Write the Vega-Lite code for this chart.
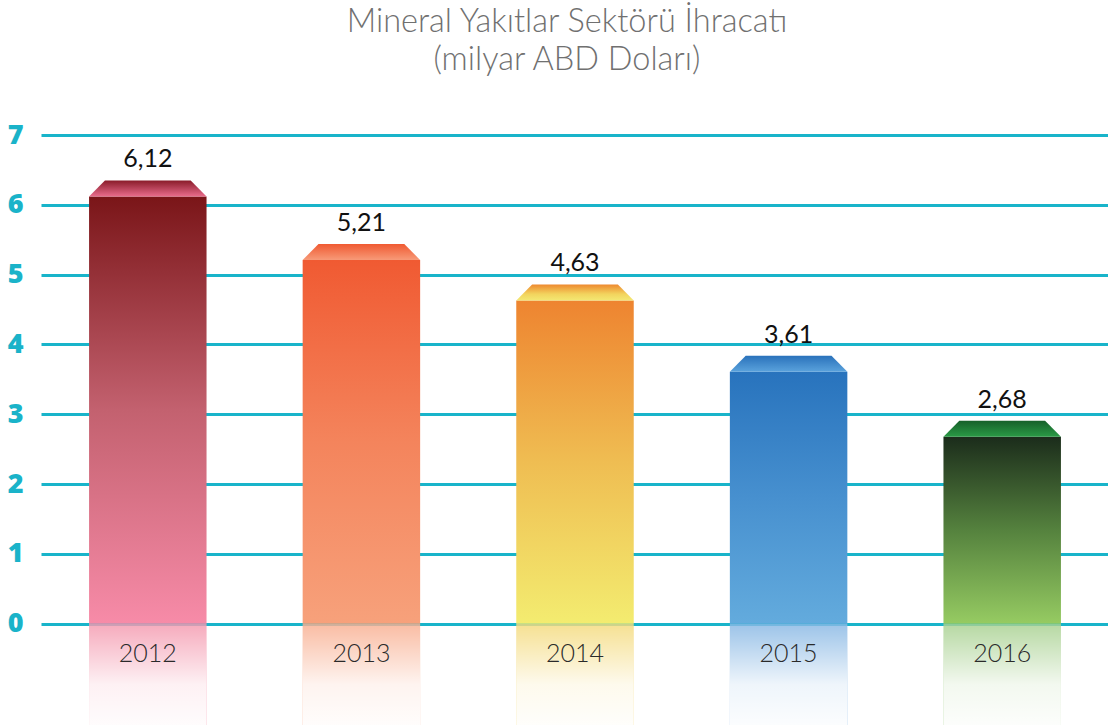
{
  "$schema": "https://vega.github.io/schema/vega-lite/v6.json",
  "width": 1068,
  "height": 590,
  "autosize": {"type": "none"},
  "padding": {"left": 41, "top": 135, "right": 0, "bottom": 0},
  "background": "white",
  "title": {
    "text": ["Mineral Yakıtlar Sektörü İhracatı", "(milyar ABD Doları)"],
    "fontSize": 32.5,
    "font": "Lato",
    "fontWeight": 300,
    "color": "#707070",
    "lineHeight": 38,
    "offset": 45,
    "anchor": "middle",
    "dx": -8
  },
  "config": {
    "view": {"stroke": null},
    "locale": {"number": {"decimal": ",", "thousands": ".", "grouping": [3], "currency": ["", " TL"]}}
  },
  "data": {
    "values": [
      {"year": "2012", "value": 6.12},
      {"year": "2013", "value": 5.21},
      {"year": "2014", "value": 4.63},
      {"year": "2015", "value": 3.61},
      {"year": "2016", "value": 2.68}
    ]
  },
  "encoding": {
    "x": {
      "field": "year",
      "type": "nominal",
      "scale": {"paddingInner": 0.45, "paddingOuter": 0.225},
      "axis": {
        "title": null,
        "orient": "bottom",
        "offset": -101,
        "domain": false,
        "ticks": false,
        "labelPadding": 17,
        "labelFontSize": 25,
        "labelFont": "Lato",
        "labelFontWeight": 300,
        "labelColor": "#2a2a2a",
        "labelAngle": 0,
        "zindex": 1
      }
    }
  },
  "layer": [
    {
      "mark": {"type": "bar", "opacity": 0.8},
      "encoding": {
        "y": {
          "field": "value",
          "type": "quantitative",
          "scale": {"domain": [-1.45, 7], "nice": false, "zero": false},
          "axis": {
            "values": [0, 1, 2, 3, 4, 5, 6, 7],
            "format": "d",
            "title": null,
            "grid": true,
            "gridColor": "#18b4ca",
            "gridWidth": 3,
            "gridOpacity": 1,
            "domain": false,
            "ticks": false,
            "labelPadding": 18,
            "labelFontSize": 27,
            "labelFontWeight": 800,
            "labelColor": "#1ab3c9",
            "labelFont": "Open Sans"
          }
        },
        "y2": {"datum": -1.45},
        "opacity": {"value": 0},
        "color": {
          "field": "year",
          "type": "nominal",
          "scale": {"range": ["#f38aa3", "#f7a37f", "#f3d468", "#75ace0", "#9ac97e"]},
          "legend": null
        }
      }
    },
    {
      "mark": {"type": "bar", "opacity": 0.8},
      "encoding": {
        "y": {"datum": 0, "type": "quantitative"},
        "y2": {"datum": -1.45},
        "color": {
          "field": "year",
          "type": "nominal",
          "legend": null
        }
      }
    },
    {
      "mark": {
        "type": "bar",
        "color": {
          "gradient": "linear", "x1": 0, "y1": 0, "x2": 0, "y2": 1,
          "stops": [
            {"offset": 0, "color": "rgba(255,255,255,0.1)"},
            {"offset": 0.6, "color": "rgba(255,255,255,0.85)"},
            {"offset": 1, "color": "rgba(255,255,255,0.97)"}
          ]
        }
      },
      "encoding": {
        "y": {"datum": 0, "type": "quantitative"},
        "y2": {"datum": -1.45}
      }
    },
    {
      "transform": [{"filter": "datum.year === '2012'"}],
      "layer": [
        {
          "mark": {"type": "bar", "color": {"gradient": "linear", "x1": 0, "y1": 0, "x2": 0, "y2": 1,
            "stops": [{"offset": 0, "color": "#7a1518"}, {"offset": 0.5, "color": "#c3616f"}, {"offset": 1, "color": "#f78ba8"}]}},
          "encoding": {"y": {"field": "value", "type": "quantitative"}}
        },
        {
          "mark": {"type": "point", "shape": "M-1,0 L1,0 L0.73,-0.27 L-0.73,-0.27 Z", "size": 13806, "filled": true, "opacity": 1, "strokeWidth": 0,
            "color": {"gradient": "linear", "x1": 0, "y1": 0, "x2": 0, "y2": 1,
              "stops": [{"offset": 0, "color": "#8a1c2a"}, {"offset": 1, "color": "#e96c8c"}]}},
          "encoding": {"y": {"field": "value", "type": "quantitative"}}
        }
      ]
    },
    {
      "transform": [{"filter": "datum.year === '2013'"}],
      "layer": [
        {
          "mark": {"type": "bar", "color": {"gradient": "linear", "x1": 0, "y1": 0, "x2": 0, "y2": 1,
            "stops": [{"offset": 0, "color": "#f05a32"}, {"offset": 0.5, "color": "#f4845c"}, {"offset": 1, "color": "#f7a17b"}]}},
          "encoding": {"y": {"field": "value", "type": "quantitative"}}
        },
        {
          "mark": {"type": "point", "shape": "M-1,0 L1,0 L0.73,-0.27 L-0.73,-0.27 Z", "size": 13806, "filled": true, "opacity": 1, "strokeWidth": 0,
            "color": {"gradient": "linear", "x1": 0, "y1": 0, "x2": 0, "y2": 1,
              "stops": [{"offset": 0, "color": "#f05a32"}, {"offset": 1, "color": "#f79a78"}]}},
          "encoding": {"y": {"field": "value", "type": "quantitative"}}
        }
      ]
    },
    {
      "transform": [{"filter": "datum.year === '2014'"}],
      "layer": [
        {
          "mark": {"type": "bar", "color": {"gradient": "linear", "x1": 0, "y1": 0, "x2": 0, "y2": 1,
            "stops": [{"offset": 0, "color": "#ee8430"}, {"offset": 0.5, "color": "#efbd52"}, {"offset": 1, "color": "#f3ec70"}]}},
          "encoding": {"y": {"field": "value", "type": "quantitative"}}
        },
        {
          "mark": {"type": "point", "shape": "M-1,0 L1,0 L0.73,-0.27 L-0.73,-0.27 Z", "size": 13806, "filled": true, "opacity": 1, "strokeWidth": 0,
            "color": {"gradient": "linear", "x1": 0, "y1": 0, "x2": 0, "y2": 1,
              "stops": [{"offset": 0, "color": "#ee8a30"}, {"offset": 0.6, "color": "#f2d45e"}, {"offset": 1, "color": "#f3e873"}]}},
          "encoding": {"y": {"field": "value", "type": "quantitative"}}
        }
      ]
    },
    {
      "transform": [{"filter": "datum.year === '2015'"}],
      "layer": [
        {
          "mark": {"type": "bar", "color": {"gradient": "linear", "x1": 0, "y1": 0, "x2": 0, "y2": 1,
            "stops": [{"offset": 0, "color": "#2873bd"}, {"offset": 0.5, "color": "#4790cf"}, {"offset": 1, "color": "#63abdd"}]}},
          "encoding": {"y": {"field": "value", "type": "quantitative"}}
        },
        {
          "mark": {"type": "point", "shape": "M-1,0 L1,0 L0.73,-0.27 L-0.73,-0.27 Z", "size": 13806, "filled": true, "opacity": 1, "strokeWidth": 0,
            "color": {"gradient": "linear", "x1": 0, "y1": 0, "x2": 0, "y2": 1,
              "stops": [{"offset": 0, "color": "#2a72bb"}, {"offset": 1, "color": "#5aa2dc"}]}},
          "encoding": {"y": {"field": "value", "type": "quantitative"}}
        }
      ]
    },
    {
      "transform": [{"filter": "datum.year === '2016'"}],
      "layer": [
        {
          "mark": {"type": "bar", "color": {"gradient": "linear", "x1": 0, "y1": 0, "x2": 0, "y2": 1,
            "stops": [{"offset": 0, "color": "#1b2c1b"}, {"offset": 0.5, "color": "#55823e"}, {"offset": 1, "color": "#96cb62"}]}},
          "encoding": {"y": {"field": "value", "type": "quantitative"}}
        },
        {
          "mark": {"type": "point", "shape": "M-1,0 L1,0 L0.73,-0.27 L-0.73,-0.27 Z", "size": 13806, "filled": true, "opacity": 1, "strokeWidth": 0,
            "color": {"gradient": "linear", "x1": 0, "y1": 0, "x2": 0, "y2": 1,
              "stops": [{"offset": 0, "color": "#16602a"}, {"offset": 1, "color": "#2a9a45"}]}},
          "encoding": {"y": {"field": "value", "type": "quantitative"}}
        }
      ]
    },
    {
      "mark": {"type": "text", "baseline": "bottom", "dy": -24, "fontSize": 25, "font": "Lato", "color": "#111111"},
      "encoding": {
        "y": {"field": "value", "type": "quantitative"},
        "text": {"field": "value", "type": "quantitative", "format": ".2f"}
      }
    }
  ]
}
